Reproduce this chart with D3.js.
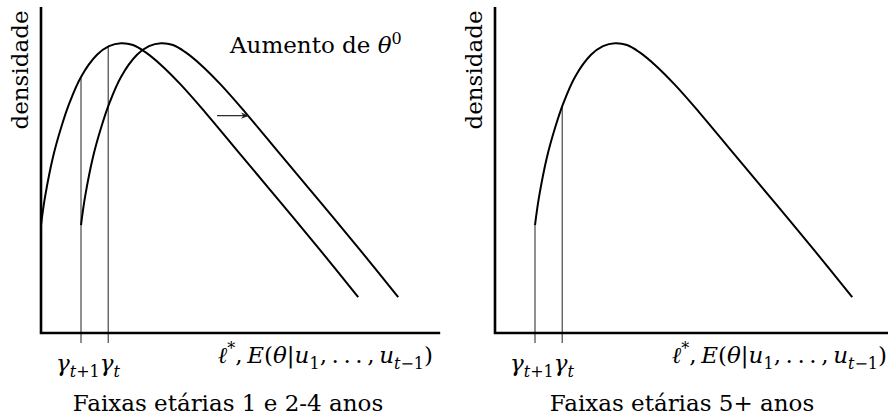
<!DOCTYPE html>
<meta charset="utf-8">
<head>
<script src="https://d3js.org/d3.v7.min.js"></script>
<style>
  body { margin: 0; background: #fff; }
  text { font-family: "DejaVu Serif", serif; font-size: 23px; fill: #000; }
</style>
</head>

<body>
<div id="chart"></div>

<script>

var width = 888, height = 417;

var densityX = [0, 0.1, 0.3, 0.5, 0.7, 1.0, 1.4, 1.7, 2.0, 2.3, 2.6, 3.0, 3.5, 4.1, 5.0, 6.0, 7.0, 7.93];
var densityY = [2.98, 3.75, 4.86, 5.66, 6.32, 7.07, 7.68, 7.92, 8.0, 7.95, 7.76, 7.40, 6.85, 6.10, 4.91, 3.59, 2.26, 0.99];

// where each curve starts, per panel
var leftShifts = [0, 1];
var rightShifts = [1];

// cut points on the x axis
var gammaValues = [1, 1.68];

var panelTitles = ["Faixas etárias 1 e 2-4 anos", "Faixas etárias 5+ anos"];
var yLabel = "densidade";

// arrow showing the shift of the curve
var arrowX = [4.4, 5.18];
var arrowY = 6.0;

var svg = d3.select("#chart").append("svg")
  .attr("width", width)
  .attr("height", height);

svg.append("defs").append("marker")
  .attr("id", "head")
  .attr("viewBox", "0 0 10 10")
  .attr("refX", 9).attr("refY", 5)
  .attr("markerWidth", 8).attr("markerHeight", 8)
  .attr("markerUnits", "userSpaceOnUse")
  .attr("orient", "auto")
  .append("path")
  .attr("d", "M0,1 L10,5 L0,9 L3,5 Z")
  .attr("fill", "#222");

var y = d3.scaleLinear().domain([0, 9]).range([333, 7]);

// value of the shifted density at x (linear between read points)
function densityAt(x, shift) {
  var u = x - shift;
  if (u < 0 || u > densityX[densityX.length - 1]) return 0;
  for (var i = 1; i < densityX.length; i++) {
    if (u <= densityX[i]) {
      var t = (u - densityX[i - 1]) / (densityX[i] - densityX[i - 1]);
      return densityY[i - 1] + t * (densityY[i] - densityY[i - 1]);
    }
  }
  return densityY[densityY.length - 1];
}

// writes a bit of math as tspans: italic letters, sub/superscripts
function mathText(sel, parts) {
  var cur = 0;
  parts.forEach(function(p) {
    var shift = p.sub ? 6 : (p.sup ? -9 : 0);
    sel.append("tspan")
      .attr("dy", shift - cur)
      .style("font-style", p.i ? "italic" : "normal")
      .style("font-size", (p.sub || p.sup) ? "16px" : null)
      .text(p.t);
    cur = shift;
  });
}

var xLabelParts = [
  {t: "ℓ", i: true}, {t: "*", sup: true}, {t: ",\u2009"}, {t: "E", i: true}, {t: "("},
  {t: "θ", i: true}, {t: "|"}, {t: "u", i: true}, {t: "1", sub: true}, {t: ",\u2009.\u2009.\u2009.\u2009,\u2009"},
  {t: "u", i: true}, {t: "t", i: true, sub: true}, {t: "−1", sub: true}, {t: ")"}
];
var gammaParts = [
  {t: "γ", i: true}, {t: "t", i: true, sub: true}, {t: "+1", sub: true},
  {t: "γ", i: true}, {t: "t", i: true, sub: true}
];

function drawPanel(x0, xEnd, shifts, title, showNote) {
  var x = d3.scaleLinear().domain([0, 10]).range([x0, x0 + 400]);
  var g = svg.append("g");

  var line = d3.line()
    .x(function(d) { return x(d[0]); })
    .y(function(d) { return y(d[1]); })
    .curve(d3.curveCatmullRom.alpha(0.5));

  // vertical cut lines, up to the highest curve
  g.selectAll(".cut")
    .data(gammaValues)
    .enter().append("line")
    .attr("x1", function(d) { return x(d); })
    .attr("x2", function(d) { return x(d); })
    .attr("y1", y(0) + 10)
    .attr("y2", function(d) {
      return y(d3.max(shifts, function(s) { return densityAt(d, s); }));
    })
    .attr("stroke", "#222")
    .attr("stroke-width", 1);

  g.selectAll(".curve")
    .data(shifts)
    .enter().append("path")
    .attr("d", function(s) {
      return line(densityX.map(function(u, i) { return [u + s, densityY[i]]; }));
    })
    .attr("fill", "none")
    .attr("stroke", "#000")
    .attr("stroke-width", 2);

  // axes
  g.append("path")
    .attr("d", "M" + x(0) + "," + y(9) + "V" + y(0) + "H" + x(xEnd))
    .attr("fill", "none")
    .attr("stroke", "#000")
    .attr("stroke-width", 2.6);

  g.append("text")
    .attr("transform", "translate(" + (x0 - 13) + "," + 70 + ") rotate(-90)")
    .attr("text-anchor", "middle")
    .text(yLabel);

  mathText(g.append("text")
    .attr("x", x0 + 392).attr("y", 363)
    .attr("text-anchor", "end"), xLabelParts);

  mathText(g.append("text")
    .attr("x", x0 + 15).attr("y", 371), gammaParts);

  g.append("text")
    .attr("x", x0 + 187).attr("y", 411)
    .attr("text-anchor", "middle")
    .text(title);

  if (showNote) {
    mathText(g.append("text").attr("x", x0 + 189).attr("y", 53),
      [{t: "Aumento de "}, {t: "θ", i: true}, {t: "0", sup: true}]);

    g.append("line")
      .attr("x1", x(arrowX[0])).attr("x2", x(arrowX[1]))
      .attr("y1", y(arrowY)).attr("y2", y(arrowY))
      .attr("stroke", "#222")
      .attr("stroke-width", 1.2)
      .attr("marker-end", "url(#head)");
  }
}

drawPanel(41, 9.98, leftShifts, panelTitles[0], true);
drawPanel(495, 9.9, rightShifts, panelTitles[1], false);

</script>
</body>
